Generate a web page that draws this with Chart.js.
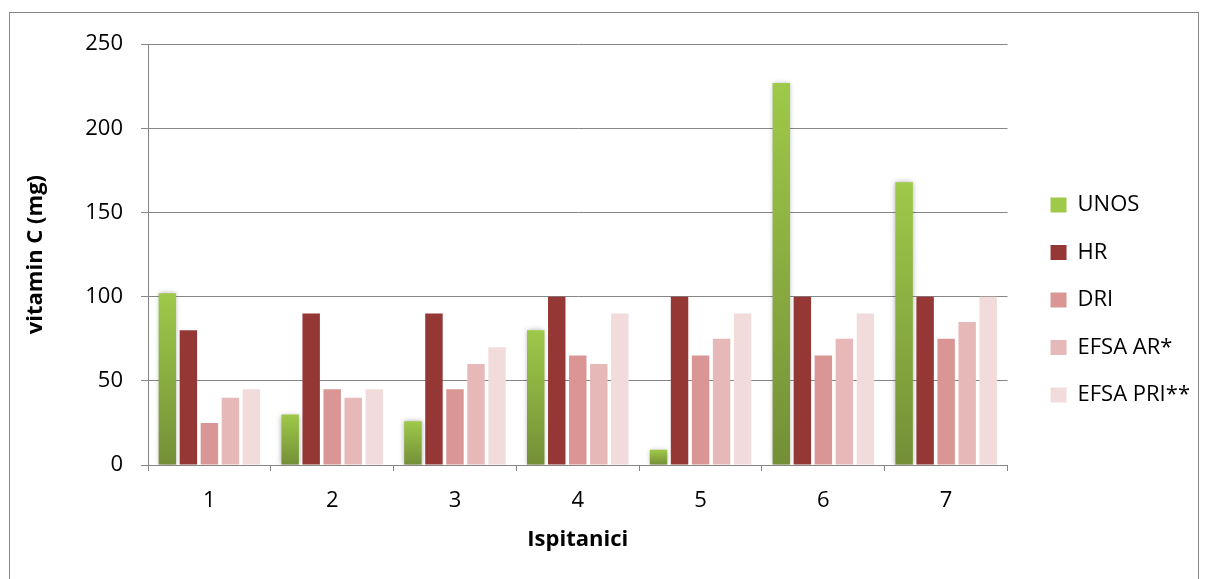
<!DOCTYPE html>
<html>
<head>
<meta charset="utf-8">
<script src="https://cdn.jsdelivr.net/npm/chart.js@4.4.1/dist/chart.umd.min.js"></script>
<style>
    html, body { margin: 0; padding: 0; background: #fff; }
    body { width: 1208px; height: 579px; overflow: hidden; position: relative; }
    #frame { position: absolute; left: 9px; top: 12px; width: 1188px; height: 567px; border: 1px solid #878787; background: #fff; }
    #chart { display: block; }
</style>
</head>
<body>
<div id="frame"><canvas id="chart" width="1188" height="567"></canvas></div>
<script>
// ============ Data ============
const subjects = ['1', '2', '3', '4', '5', '6', '7'];
const seriesNames = ['UNOS', 'HR', 'DRI', 'EFSA AR*', 'EFSA PRI**'];
const unos = [102, 30, 26, 80, 9, 227, 168];
const hr = [80, 90, 90, 100, 100, 100, 100];
const dri = [25, 45, 45, 65, 65, 65, 75];
const efsaAr = [40, 40, 60, 60, 75, 75, 85];
const efsaPri = [45, 45, 70, 90, 90, 90, 100];
const yMin = 0, yMax = 250, yStep = 50;

// ============ Style ============
const GRID = '#868686';
const FONT = 'Open Sans';
const seriesColors = ['#8db443', '#953735', '#d99694', '#e6b9b8', '#f2dcdb'];

// per-bar green gradient, light on top
function unosFill(ctx) {
    const chart = ctx.chart;
    if (ctx.type !== 'data' || !chart.chartArea) return seriesColors[0];
    const y = chart.scales.y;
    const top = y.getPixelForValue(ctx.raw);
    const base = y.getPixelForValue(0);
    const g = chart.ctx.createLinearGradient(0, top, 0, base);
    g.addColorStop(0, '#9ec949');
    g.addColorStop(1, '#748f37');
    return g;
}

const barShadow = {
    id: 'barShadow',
    beforeDatasetDraw(chart, args) {
        if (args.index !== 0) return;
        const c = chart.ctx;
        c.save();
        c.shadowColor = 'rgba(0,0,0,0.3)';
        c.shadowBlur = 5;
    },
    afterDatasetDraw(chart, args) {
        if (args.index === 0) chart.ctx.restore();
    }
};

const values = [unos, hr, dri, efsaAr, efsaPri];
const datasets = seriesNames.map((name, i) => ({
    label: name,
    data: values[i],
    backgroundColor: i === 0 ? unosFill : seriesColors[i],
    borderWidth: 0,
    categoryPercentage: 0.856,
    barPercentage: 0.83
}));

Chart.defaults.font.family = FONT;
Chart.defaults.color = '#000';

new Chart(document.getElementById('chart'), {
    type: 'bar',
    data: { labels: subjects, datasets },
    plugins: [barShadow],
    options: {
        responsive: false,
        animation: false,
        layout: { padding: { top: 31, bottom: 24, left: 0, right: -2 } },
        plugins: {
            tooltip: { enabled: false },
            legend: {
                position: 'right',
                labels: {
                    font: { size: 22 },
                    color: '#000',
                    boxWidth: 16,
                    boxHeight: 15,
                    padding: 25.5
                }
            }
        },
        scales: {
            x: {
                offset: true,
                grid: { display: true, drawOnChartArea: false, color: GRID, tickLength: 6 },
                border: { color: GRID },
                ticks: { font: { size: 22 }, color: '#000', padding: 17 },
                title: { display: true, text: 'Ispitanici', font: { size: 22, weight: 'bold' }, color: '#000', padding: { top: 0, bottom: 3 } },
                afterFit: (axis) => { axis.height = 91; }
            },
            y: {
                min: yMin,
                max: yMax,
                ticks: { stepSize: yStep, font: { size: 22 }, color: '#000', padding: 18 },
                grid: { color: GRID, tickLength: 7 },
                border: { color: GRID },
                title: { display: true, text: 'vitamin C (mg)', font: { size: 22, weight: 'bold' }, color: '#000', padding: { top: 13, bottom: 0 } },
                afterFit: (axis) => { axis.width = 138; }
            },
            gap: {
                type: 'linear',
                position: 'right',
                grid: { display: false },
                border: { display: false },
                ticks: { display: false },
                afterFit: (axis) => { axis.width = 17.5; }
            }
        }
    }
});
</script>
</body>
</html>
